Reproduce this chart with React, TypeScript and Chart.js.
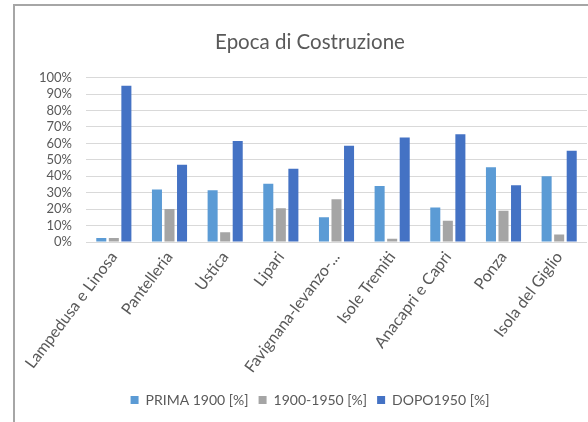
import React, { useEffect, useRef } from "react";
import { Chart, registerables } from "chart.js";

Chart.register(...registerables);

const categories = [
  "Lampedusa e Linosa",
  "Pantelleria",
  "Ustica",
  "Lipari",
  "Favignana-levanzo-...",
  "Isole Tremiti",
  "Anacapri e Capri",
  "Ponza",
  "Isola del Giglio",
];
const prima1900 = [2.5, 32, 31.5, 35.5, 15, 34, 21, 45.5, 40];
const tra1900e1950 = [2.5, 20, 6, 20.5, 26, 2, 13, 19, 4.5];
const dopo1950 = [95, 47, 61.5, 44.5, 58.5, 63.5, 65.5, 34.5, 55.5];
const seriesNames = ["PRIMA 1900 [%]", "1900-1950 [%]", "DOPO1950 [%]"];
const titleText = "Epoca di Costruzione";

const FONT = "Lato, 'Open Sans', sans-serif";
const TEXT = "#595959";

export default function App() {
  const ref = useRef<HTMLCanvasElement | null>(null);
  useEffect(() => {
    if (!ref.current) return;
    const chart = new Chart(ref.current, {
      type: "bar",
      data: {
        labels: categories,
        datasets: [
          { label: seriesNames[0], data: prima1900, backgroundColor: "#5B9BD5" },
          { label: seriesNames[1], data: tra1900e1950, backgroundColor: "#A5A5A5" },
          { label: seriesNames[2], data: dopo1950, backgroundColor: "#4472C4" },
        ],
      },
      options: {
        animation: false,
        responsive: false,
        maintainAspectRatio: false,
        devicePixelRatio: 1,
        layout: {
          autoPadding: false,
          padding: { left: 18, right: 0, top: 0, bottom: 5 },
        },
        datasets: { bar: { categoryPercentage: 0.676, barPercentage: 0.8 } },
        plugins: {
          title: {
            display: true,
            text: titleText,
            color: TEXT,
            font: { family: FONT, size: 20.5, weight: "normal" },
            padding: { top: 24, bottom: 23 },
          },
          legend: {
            position: "bottom",
            labels: {
              boxWidth: 8,
              boxHeight: 8,
              padding: 10,
              color: TEXT,
              font: { family: FONT, size: 14 },
            },
          },
          tooltip: { enabled: false },
        },
        scales: {
          x: {
            grid: { display: false, drawTicks: false },
            border: { display: true, color: "#D9D9D9", width: 1 },
            ticks: {
              minRotation: 53,
              maxRotation: 53,
              autoSkip: false,
              padding: 6,
              color: TEXT,
              font: { family: FONT, size: 16 },
            },
            afterFit: (s: any) => {
              s.height = 141;
            },
          },
          y: {
            min: 0,
            max: 100,
            grid: { color: "#D9D9D9", drawTicks: false },
            border: { display: false },
            ticks: {
              stepSize: 10,
              autoSkip: false,
              padding: 14,
              color: TEXT,
              font: { family: FONT, size: 13 },
              callback: (v: any) => v + "%",
            },
            afterFit: (s: any) => {
              s.width = 53;
            },
          },
        },
      },
    });
    return () => chart.destroy();
  }, []);

  return (
    <div
      style={{
        position: "fixed",
        left: 0,
        top: 0,
        width: 588,
        height: 422,
        overflow: "hidden",
        background: "#fff",
      }}
    >
      <div
        style={{
          position: "absolute",
          left: 13,
          top: 4,
          width: 640,
          height: 460,
          borderLeft: "2px solid #A6A6A6",
          borderTop: "2px solid #A6A6A6",
        }}
      />
      <canvas
        ref={ref}
        width={572}
        height={416}
        style={{ position: "absolute", left: 15, top: 6, width: 572, height: 416 }}
      />
    </div>
  );
}
